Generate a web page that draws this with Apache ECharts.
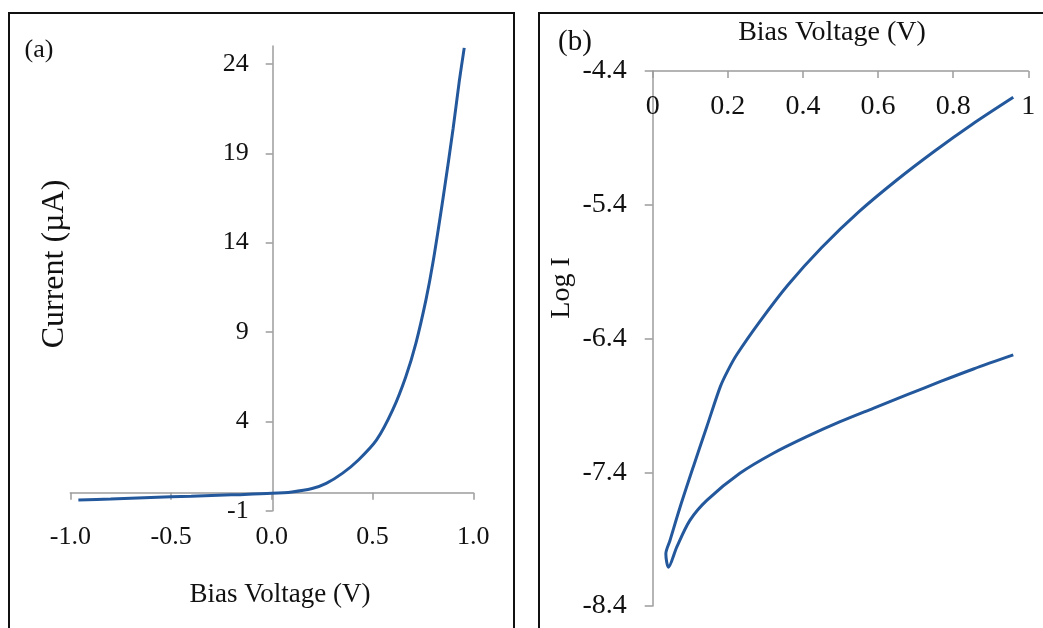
<!DOCTYPE html>
<html>
<head>
<meta charset="utf-8">
<script src="https://cdn.jsdelivr.net/npm/echarts@6/dist/echarts.min.js"></script>
<style>
html,body{margin:0;padding:0;background:#fff;}
#chart{width:1043px;height:628px;}
</style>
</head>
<body>
<div id="chart"></div>
<script>
// ---- Panel (a): I–V curve ----
const voltageA = [-0.96, -0.8, -0.6, -0.4, -0.2, 0.0, 0.1, 0.2, 0.27, 0.35, 0.43, 0.52, 0.6, 0.665, 0.715, 0.765, 0.8, 0.85, 0.9, 0.93, 0.955];
const currentA = [-0.40, -0.34, -0.26, -0.19, -0.11, -0.03, 0.05, 0.24, 0.53, 1.09, 1.84, 2.96, 4.64, 6.5, 8.37, 10.8, 12.9, 16.5, 20.4, 23.0, 24.9];
const xTicksA = [-1.0, -0.5, 0.0, 0.5, 1.0];
const yTicksA = [-1, 4, 9, 14, 19, 24];

// ---- Panel (b): log I vs bias (loop: upper branch down to the tip, then lower branch) ----
const voltageB = [0.96, 0.85, 0.75, 0.65, 0.55, 0.45, 0.36, 0.286, 0.224, 0.20, 0.18, 0.144, 0.108, 0.073, 0.046, 0.035, 0.042, 0.064, 0.099, 0.144, 0.232, 0.321, 0.41, 0.499, 0.587, 0.676, 0.765, 0.854, 0.96];
const logIB    = [-4.597, -4.80, -5.00, -5.215, -5.45, -5.72, -6.00, -6.27, -6.52, -6.64, -6.76, -7.06, -7.36, -7.66, -7.91, -8.01, -8.11, -7.96, -7.76, -7.61, -7.408, -7.258, -7.134, -7.022, -6.922, -6.822, -6.723, -6.628, -6.523];
const xTicksB = [0, 0.2, 0.4, 0.6, 0.8, 1];
const yTicksB = [-8.4, -7.4, -6.4, -5.4, -4.4];

const FONT = '"Liberation Serif", "Times New Roman", serif';
const LINE = '#24589c';
const AXIS = '#9c9c9c';
const TXT = '#111';

const chart = echarts.init(document.getElementById('chart'), null, {renderer: 'canvas'});

function txt(text, x, y, size, rot) {
  return {
    type: 'text', x: x, y: y, rotation: rot || 0, silent: true,
    style: {
      text: text, fill: TXT, font: size + 'px ' + FONT,
      textAlign: 'center', textVerticalAlign: 'middle',
      align: 'center', verticalAlign: 'middle'
    }
  };
}

const option = {
  animation: false,
  backgroundColor: '#fff',
  grid: [
    {left: 70.3, top: 46.1, width: 403, height: 464.6, containLabel: false},
    {left: 652.7, top: 71, width: 375.6, height: 535, containLabel: false}
  ],
  xAxis: [
    {
      gridIndex: 0, type: 'value', min: -1, max: 1, interval: 0.5,
      axisLine: {onZero: true, lineStyle: {color: AXIS, width: 1.5}},
      axisTick: {show: true, length: 7, customValues: xTicksA, lineStyle: {color: AXIS, width: 1.5}},
      axisLabel: {customValues: xTicksA, margin: 13, color: TXT, fontFamily: FONT, fontSize: 26,
        formatter: v => v.toFixed(1)},
      splitLine: {show: false}
    },
    {
      gridIndex: 1, type: 'value', position: 'top', min: 0, max: 1, interval: 0.2,
      axisLine: {onZero: false, lineStyle: {color: AXIS, width: 1.5}},
      axisTick: {show: true, inside: true, length: 7, customValues: xTicksB, lineStyle: {color: AXIS, width: 1.5}},
      axisLabel: {customValues: xTicksB, inside: true, margin: 22, color: TXT, fontFamily: FONT, fontSize: 28,
        formatter: v => String(Math.round(v * 10) / 10)},
      splitLine: {show: false}
    }
  ],
  yAxis: [
    {
      gridIndex: 0, type: 'value', min: -1, max: 25, offset: -202.4,
      axisLine: {show: true, onZero: false, lineStyle: {color: AXIS, width: 1.5}},
      axisTick: {show: true, length: 7, customValues: yTicksA, lineStyle: {color: AXIS, width: 1.5}},
      axisLabel: {customValues: yTicksA, margin: 24, color: TXT, fontFamily: FONT, fontSize: 26},
      splitLine: {show: false}
    },
    {
      gridIndex: 1, type: 'value', min: -8.4, max: -4.4,
      axisLine: {show: true, onZero: false, lineStyle: {color: AXIS, width: 1.5}},
      axisTick: {show: true, length: 8, customValues: yTicksB, lineStyle: {color: AXIS, width: 1.5}},
      axisLabel: {customValues: yTicksB, margin: 26, color: TXT, fontFamily: FONT, fontSize: 28,
        formatter: v => v.toFixed(1)},
      splitLine: {show: false}
    }
  ],
  series: [
    {
      type: 'line', xAxisIndex: 0, yAxisIndex: 0, showSymbol: false, smooth: 0.3,
      lineStyle: {color: LINE, width: 3}, itemStyle: {color: LINE},
      data: voltageA.map((v, i) => [v, currentA[i]])
    },
    {
      type: 'line', xAxisIndex: 1, yAxisIndex: 1, showSymbol: false, smooth: 0.3,
      lineStyle: {color: LINE, width: 3}, itemStyle: {color: LINE},
      data: voltageB.map((v, i) => [v, logIB[i]])
    }
  ],
  graphic: [
    {type: 'rect', silent: true, shape: {x: 9, y: 13, width: 505, height: 640},
      style: {fill: 'none', stroke: '#111', lineWidth: 2}},
    {type: 'rect', silent: true, shape: {x: 539, y: 13, width: 520, height: 640},
      style: {fill: 'none', stroke: '#111', lineWidth: 2}},
    txt('(a)', 39, 50, 26),
    txt('Current (\u00b5A)', 55, 264, 32, Math.PI / 2),
    txt('Bias Voltage (V)', 280, 595, 27),
    txt('(b)', 575, 42, 29),
    txt('Bias Voltage (V)', 832, 33, 28),
    txt('Log I', 562, 288, 28, Math.PI / 2)
  ]
};
chart.setOption(option);
</script>
</body>
</html>
